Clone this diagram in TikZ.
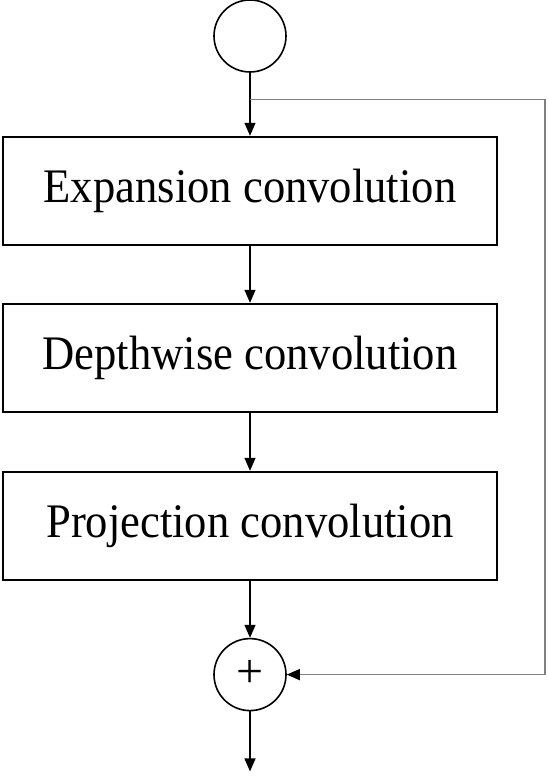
\documentclass[tikz,border=0pt]{standalone}
\usepackage{fontspec}
\setmainfont{Liberation Serif}
\usepackage{graphicx}
\usepackage{tikz}
\usetikzlibrary{positioning,arrows.meta,calc}

\begin{document}
\begin{tikzpicture}[
    >={Triangle[width=11pt,length=13pt]}, node distance=57pt,
    blk/.style={draw, line width=2pt, minimum width=494pt, minimum height=108pt, inner sep=0pt,
      font=\fontsize{44.6}{50}\selectfont},
    io/.style={draw, circle, line width=1.6pt, minimum size=72pt, inner sep=0pt},
    conn/.style={->, line width=1.3pt},
    skip/.style={-{Triangle[width=11pt,length=13pt,black]}, line width=1.4pt, draw=black!50}]
  \useasboundingbox (0,0) rectangle (547pt,-783pt);
  \node[io] (in) at (250pt,-36pt) {};
  \node[blk, below=63pt of in] (expand) {\scalebox{1}[1.08]{Expansion convolution}};
  \node[blk, below=of expand] (depth) {\scalebox{1}[1.08]{Depthwise convolution}};
  \node[blk, below=58pt of depth] (proj) {\scalebox{1}[1.08]{Projection convolution}};
  \node[io, below=of proj, font=\fontsize{48}{48}\selectfont] (add) {\raisebox{1pt}{+}};
  \coordinate[below=60pt of add] (out);
  \coordinate[below=27pt of in] (split);
  \draw[conn] (in) -- (expand);
  \draw[conn] (expand) -- (depth);
  \draw[conn] (depth) -- (proj);
  \draw[conn] (proj) -- (add);
  \draw[conn] (add) -- (out);
  \draw[skip] (split) -- ($(split)+(295pt,0)$) |- (add.east);
\end{tikzpicture}
\end{document}
